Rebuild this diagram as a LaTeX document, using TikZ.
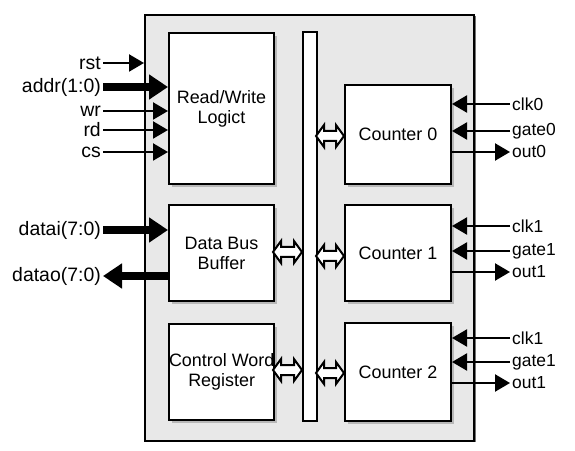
\documentclass[tikz,border=0pt]{standalone}
\usepackage{fontspec}
\setmainfont{Liberation Sans}
\usetikzlibrary{arrows.meta,shadows,calc}
\newcommand\dblarrow[3]{\draw[line width=2bp, fill=white, line join=miter]
  (#1,#3) -- ++(8,-11) -- ++(0,6) -- (#2-8,#3-5) -- ++(0,-6) -- (#2,#3)
  -- ++(-8,11) -- ++(0,-6) -- (#1+8,#3+5) -- ++(0,6) -- cycle;}
\begin{document}
\begin{tikzpicture}[x=1bp,y=-1bp,
  box/.style={draw, line width=2bp, fill=white, anchor=north west, inner sep=0,
    align=center, font=\fontsize{18}{20}\selectfont,
    drop shadow={shadow xshift=3bp, shadow yshift=-3bp, fill=black!28, opacity=1}},
  lab/.style={font=\fontsize{19.5}{22}\selectfont, inner sep=2bp},
  rlab/.style={font=\fontsize{17.5}{21}\selectfont, inner sep=2bp, anchor=west},
  thinarr/.style={line width=2.2bp, -{Triangle[length=15bp,width=17bp]}},
  thickarr/.style={line width=8bp, -{Triangle[length=19bp,width=24bp]}},
]
\useasboundingbox (0,0) rectangle (575,451);
% outer box
\fill[black!55] (146,16) rectangle (476,442);
\node[draw, line width=2bp, fill=black!9, anchor=north west, inner sep=0,
  minimum width=329bp, minimum height=426bp] (outer) at (144,14) {};
% inner boxes
\node[box, minimum width=105bp, minimum height=151bp] (rw) at (168,32) {Read/Write\\Logict};
\node[box, minimum width=105bp, minimum height=96bp] (db) at (168,204) {Data Bus\\Buffer};
\node[box, minimum width=105bp, minimum height=96bp] (cw) at (168,323) {Control Word\\Register};
\node[draw, line width=2bp, fill=white, anchor=north west, inner sep=0,
  minimum width=14bp, minimum height=389bp] (bus) at (302,31) {};
\node[box, minimum width=106bp, minimum height=99bp] (c0) at (344,84) {Counter 0};
\node[box, minimum width=106bp, minimum height=96bp] (c1) at (344,204) {Counter 1};
\node[box, minimum width=106bp, minimum height=98bp] (c2) at (344,322) {Counter 2};
% bus connections
\dblarrow{273}{302}{252}
\dblarrow{273}{302}{370}
\dblarrow{316}{344}{136}
\dblarrow{316}{344}{256}
\dblarrow{316}{344}{373}
% left signals
\node[lab, anchor=east] (rst) at (103,63) {rst};
\node[lab, anchor=east] (addr) at (103,87) {addr(1:0)};
\node[lab, anchor=east] (wr) at (103,111) {wr};
\node[lab, anchor=east] (rd) at (103,130) {rd};
\node[lab, anchor=east] (cs) at (103,152) {cs};
\node[lab, anchor=east] (datai) at (103,230) {datai(7:0)};
\node[lab, anchor=east] (datao) at (103,276) {datao(7:0)};
\draw[thinarr] (rst.east) -- (rst.east -| outer.west);
\draw[thickarr] (addr.east) -- (addr.east -| rw.west);
\draw[thinarr] (wr.east) -- (wr.east -| rw.west);
\draw[thinarr] (rd.east) -- (rd.east -| rw.west);
\draw[thinarr] (cs.east) -- (cs.east -| rw.west);
\draw[thickarr] (datai.east) -- (datai.east -| db.west);
\draw[thickarr] (datao.east -| db.west) -- (datao.east);
% right signals
\node[rlab] (clk0) at (510,104) {clk0};
\node[rlab] (gate0) at (510,131) {gate0};
\node[rlab] (out0) at (510,152) {out0};
\node[rlab] (clk1) at (510,226) {clk1};
\node[rlab] (gate1) at (510,251) {gate1};
\node[rlab] (out1) at (510,272) {out1};
\node[rlab] (clk2) at (510,338) {clk1};
\node[rlab] (gate2) at (510,362) {gate1};
\node[rlab] (out2) at (510,383) {out1};
\foreach \s/\c in {clk0/c0,gate0/c0,clk1/c1,gate1/c1,clk2/c2,gate2/c2}
  \draw[thinarr] (\s.west) -- (\s.west -| \c.east);
\foreach \s/\c in {out0/c0,out1/c1,out2/c2}
  \draw[thinarr] (\s.west -| \c.east) -- (\s.west);
\end{tikzpicture}
\end{document}
